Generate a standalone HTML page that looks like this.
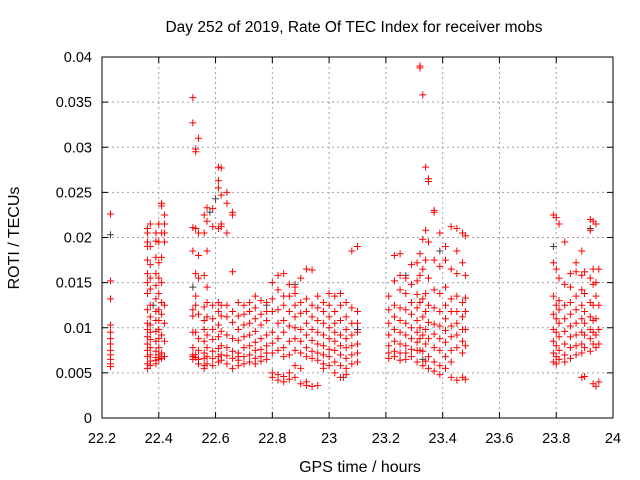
<!DOCTYPE html>
<html><head><meta charset="utf-8"><style>
body{margin:0;background:#fff}
svg{display:block;font-family:"Liberation Sans",sans-serif}
</style></head><body>
<svg id="chart" width="640" height="480">
<text x="354" y="32" text-anchor="middle" font-size="15.5">Day 252 of 2019, Rate Of TEC Index for receiver mobs</text>
<text x="360" y="472" text-anchor="middle" font-size="16">GPS time / hours</text>
<text transform="translate(19,238) rotate(-90)" text-anchor="middle" font-size="16">ROTI / TECUs</text>
<g id="grid"></g><g id="ticks"></g><g id="pts"></g>
<rect x="102" y="57" width="511" height="361" fill="none" stroke="#000" stroke-width="1"/>
</svg>
<script>
const xTicks=[22.2,22.4,22.6,22.8,23,23.2,23.4,23.6,23.8,24];
const xTickLabels=["22.2","22.4","22.6","22.8","23","23.2","23.4","23.6","23.8","24"];
const yTicks=[0,0.005,0.01,0.015,0.02,0.025,0.03,0.035,0.04];
const yTickLabels=["0","0.005","0.01","0.015","0.02","0.025","0.03","0.035","0.04"];
const redCols=[
[22.23,[.0226,.0152,.0132,.0103,.0095,.0088,.0082,.0075,.0070,.0065,.0060,.0057]],
[22.36,[.021,.0205,.0195,.019,.0175,.016,.015,.0138,.012,.0105,.0098,.009,.0082,.0075,.0068,.006,.0055]],
[22.37,[.0215,.019,.017,.0155,.0143,.0125,.0112,.0103,.0095,.0087,.0078,.007,.0063,.0058]],
[22.39,[.0205,.0196,.0178,.016,.0147,.0132,.0118,.0108,.0096,.0085,.0074,.0067,.006,.0064]],
[22.40,[.0215,.0195,.0172,.0155,.0138,.012,.0108,.0098,.0088,.0078,.007,.0065]],
[22.41,[.0235,.0238,.0205,.0178,.015,.0128,.0115,.0092,.0072,.0068,.0066]],
[22.42,[.0225,.0215,.0205,.0195,.0125,.0105,.0085,.0068]],
[22.52,[.0355,.0327,.0211,.0185,.012,.0113,.0095,.0078,.007,.0068,.0065]],
[22.53,[.0295,.0298,.021,.016,.0135,.0125,.0095,.007,.0067]],
[22.54,[.031,.0205,.018,.0155,.0115,.0088,.0075,.0065,.006]],
[22.56,[.0225,.0205,.0158,.0123,.0108,.0098,.0085,.0072,.0066,.0058,.0055]],
[22.57,[.0233,.0218,.0185,.0145,.0128,.0112,.0092,.0078,.0068,.006]],
[22.59,[.0232,.0212,.0125,.011,.0098,.0087,.0074,.0066,.0058]],
[22.61,[.0263,.0255,.0278,.021,.0128,.0118,.0103,.009,.0077,.0068,.0062]],
[22.62,[.0277,.0247,.0215,.0212,.0125,.0113,.0096,.008,.007,.0064]],
[22.64,[.025,.0238,.0205,.0125,.0112,.0092,.0078,.0069,.006]],
[22.66,[.0225,.0228,.0162,.0118,.0106,.0088,.0074,.0066,.0055]],
[22.68,[.0128,.0113,.0098,.0086,.0072,.0064,.0058,.0068]],
[22.70,[.0125,.0115,.0103,.009,.0078,.0068,.006]],
[22.72,[.0128,.0118,.0105,.0092,.008,.007,.0062]],
[22.74,[.0135,.0122,.011,.0096,.0084,.0075,.0066,.006]],
[22.76,[.013,.0115,.0103,.0088,.0076,.0068,.0063]],
[22.78,[.0128,.0118,.0108,.0092,.008,.0072,.0065]],
[22.80,[.015,.0132,.0118,.0095,.0083,.0072,.005,.0045]],
[22.82,[.0158,.0142,.012,.0105,.0088,.0075,.0048,.0042]],
[22.84,[.016,.0135,.0125,.0108,.0095,.0078,.0068,.0046,.004]],
[22.86,[.0148,.0135,.0118,.0102,.0085,.007,.005,.0043]],
[22.88,[.0145,.0138,.0125,.0112,.01,.0088,.0075,.0058,.0045]],
[22.90,[.0155,.0128,.0116,.0098,.0085,.0072,.0055,.0038]],
[22.92,[.0165,.0132,.0118,.0105,.0092,.0078,.0068,.004,.0036]],
[22.94,[.0164,.0125,.0112,.0098,.0086,.0074,.0066,.0035]],
[22.96,[.0135,.0122,.0108,.0095,.0082,.0072,.0064,.0036]],
[22.98,[.0128,.0118,.0105,.0092,.008,.007,.006,.0055]],
[23.00,[.0138,.0125,.0112,.01,.0088,.0076,.0068,.0058]],
[23.02,[.0135,.0118,.0105,.0095,.0085,.0075,.0062,.005]],
[23.04,[.0138,.0125,.0108,.0092,.008,.007,.0058,.0045]],
[23.06,[.0128,.0112,.0098,.0088,.0078,.0066,.0055,.0048]],
[23.08,[.0185,.0122,.0105,.0092,.008,.007,.006]],
[23.10,[.019,.0118,.0105,.0095,.0082,.0072,.0062]],
[23.21,[.0135,.012,.0105,.0092,.008,.0072,.0066]],
[23.23,[.018,.0152,.0125,.0112,.0098,.0085,.0074,.0068]],
[23.25,[.0182,.0158,.0142,.0122,.0108,.0095,.0082,.0072,.0064]],
[23.27,[.0155,.0138,.012,.0105,.0092,.008,.0072,.0065]],
[23.29,[.017,.0148,.0128,.0115,.01,.0088,.0076,.0068]],
[23.31,[.0172,.0152,.0137,.0122,.0108,.0095,.0084,.0075,.0062]],
[23.32,[.039,.0388,.0182,.0158,.0128,.01,.0088,.0075]],
[23.33,[.0358,.0198,.0165,.0132,.0112,.0092,.0074,.0058]],
[23.34,[.0278,.0208,.0175,.0138,.0118,.0098,.0082,.0063]],
[23.35,[.0265,.0262,.0195,.0155,.0125,.0106,.0088,.0068,.0055]],
[23.37,[.023,.0228,.0175,.0142,.0122,.0104,.0093,.0078,.0062,.0052]],
[23.39,[.0205,.0168,.0138,.0118,.0102,.0088,.0075,.0058,.0048]],
[23.41,[.019,.0175,.0145,.0125,.011,.0097,.0084,.0068,.0055]],
[23.43,[.0212,.0165,.0132,.0118,.0102,.009,.0075,.0062,.0045]],
[23.45,[.021,.0185,.016,.0135,.0118,.0105,.0092,.0078,.0042]],
[23.47,[.0205,.0172,.0128,.0112,.0098,.0085,.0072,.0045]],
[23.48,[.0202,.0158,.0133,.0118,.0098,.008,.0043]],
[23.79,[.0225,.0172,.0135,.0115,.0098,.0085,.0072,.0062]],
[23.80,[.0222,.0165,.0125,.011,.0095,.008,.0068,.006]],
[23.81,[.0215,.0155,.013,.012,.0105,.009,.0075,.0065]],
[23.83,[.0195,.0148,.0125,.011,.0096,.0082,.007,.0062]],
[23.85,[.016,.0145,.0128,.0115,.0102,.009,.0078,.0066]],
[23.87,[.0172,.0162,.0135,.012,.0105,.0092,.008,.007]],
[23.89,[.0185,.0158,.0142,.0125,.011,.0095,.0082,.0072,.0045]],
[23.90,[.0162,.0138,.0118,.0105,.0092,.0078,.0046]],
[23.92,[.022,.0208,.0155,.0128,.0112,.0098,.0088,.0074]],
[23.93,[.0218,.0165,.0148,.0125,.0108,.0095,.0082,.0038]],
[23.94,[.0215,.015,.0135,.011,.0092,.0078,.0035]],
[23.95,[.0165,.0125,.0098,.0082,.004]]
];
const grayX=[22.23,22.38,22.52,22.58,22.60,22.78,22.88,23.05,23.10,23.27,23.33,23.39,23.79,23.92];
const grayY=[.0203,.0125,.0145,.0228,.0243,.0125,.0148,.0045,.0098,.0158,.0065,.0185,.019,.021];

const X0=102,X1=613,Y0=418,Y1=57;
function sx(v){return X0+(v-22.2)/(24-22.2)*(X1-X0);}
function sy(v){return Y0-(v/0.04)*(Y0-Y1);}
const NS="http://www.w3.org/2000/svg";
function mk(tag,attrs,parent){const e=document.createElementNS(NS,tag);for(const k in attrs)e.setAttribute(k,attrs[k]);parent.appendChild(e);return e;}
const grid=document.getElementById('grid'),ticks=document.getElementById('ticks'),pts=document.getElementById('pts');
xTicks.forEach((t,i)=>{const x=sx(t);
 if(i>0&&i<xTicks.length-1){const g=mk('line',{x1:x,x2:x,y1:Y1,y2:Y0,stroke:'#a0a0a0','stroke-dasharray':'2,3'},grid);
 
 }
 mk('line',{x1:x,x2:x,y1:Y0,y2:Y0-6,stroke:'#000'},ticks);
 mk('line',{x1:x,x2:x,y1:Y1,y2:Y1+6,stroke:'#000'},ticks);
 const tl=mk('text',{x:x,y:443,'text-anchor':'middle','font-size':14.5},ticks);tl.textContent=xTickLabels[i];
 
 });
yTicks.forEach((t,i)=>{const y=sy(t);
 if(i>0&&i<yTicks.length-1){const g=mk('line',{x1:X0,x2:X1,y1:y,y2:y,stroke:'#a0a0a0','stroke-dasharray':'2,3'},grid);
 
 }
 mk('line',{x1:X0,x2:X0+6,y1:y,y2:y,stroke:'#000'},ticks);
 mk('line',{x1:X1,x2:X1-6,y1:y,y2:y,stroke:'#000'},ticks);
 const tl=mk('text',{x:92,y:y+5,'text-anchor':'end','font-size':14.5},ticks);tl.textContent=yTickLabels[i];
 
 });
function plus(x,y,c,name){const p=mk('path',{d:`M${x-3.5},${y}h7M${x},${y-3.5}v7`,stroke:c,'stroke-width':1,fill:'none'},pts);
 
 }
grayX.forEach((v,i)=>plus(sx(v),sy(grayY[i]),'#404040','gray-point'));
redCols.forEach(c=>c[1].forEach(v=>plus(sx(c[0]),sy(v),'#ff0000','roti-point')));
</script>
</body></html>
